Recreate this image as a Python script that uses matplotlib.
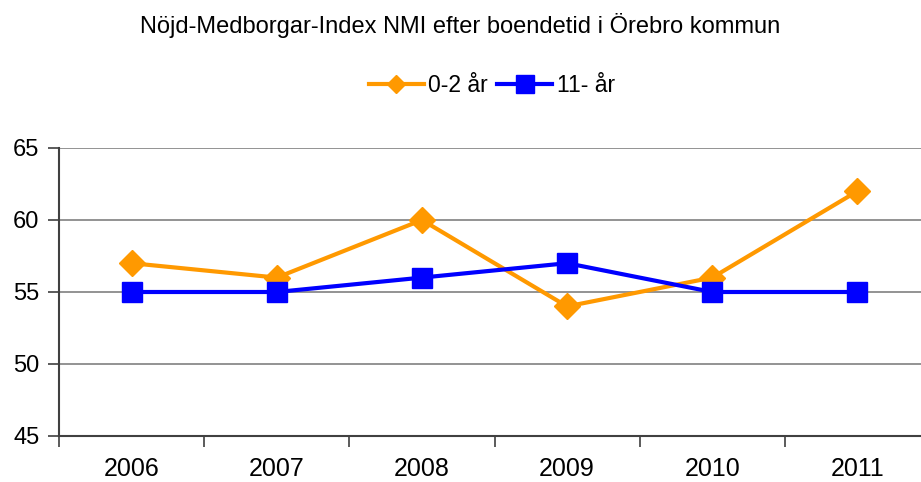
import matplotlib
import matplotlib.pyplot as plt
matplotlib.use('Agg')

plt.rcParams['font.family'] = ['Liberation Sans', 'DejaVu Sans']

# data
years = ["2006", "2007", "2008", "2009", "2010", "2011"]
short_stay = [57, 56, 60, 54, 56, 62]   # 0-2 år
long_stay = [55, 55, 56, 57, 55, 55]    # 11- år
y_ticks = [45, 50, 55, 60, 65]

fig = plt.figure(figsize=(9.21, 4.82), dpi=100)
# axis is cut off on the right side in the original
ax = fig.add_axes([59 / 921, 1 - 436 / 482, 871 / 921, 288 / 482])

x = list(range(len(years)))
ax.plot(x, short_stay, color="#ff9900", lw=3, marker="D", ms=13,
        label="0-2 år", zorder=3)
ax.plot(x, long_stay, color="#0000ff", lw=3, marker="s", ms=14,
        label="11- år", zorder=4)

ax.set_xlim(-0.5, len(years) - 0.5)
ax.set_ylim(45, 65)
ax.set_yticks(y_ticks)
# category boundaries get the tick marks, labels sit in between
ax.set_xticks([i + 0.5 for i in range(-1, len(years))], minor=False)
ax.set_xticklabels([])
ax.set_xticks(x, minor=True)
ax.set_xticklabels(years, minor=True)
ax.tick_params(axis="x", which="major", direction="out", length=8,
               color="#404040", width=1.2)
ax.tick_params(axis="x", which="minor", length=0, pad=15, labelsize=18)
ax.tick_params(axis="y", direction="out", length=8, color="#404040",
               width=1.2, labelsize=17, pad=6)

ax.grid(axis="y", color="#808080", lw=1.2)
ax.set_axisbelow(True)
for s in ["top", "right"]:
    ax.spines[s].set_visible(False)
for s in ["left", "bottom"]:
    ax.spines[s].set_color("#404040")
    ax.spines[s].set_linewidth(1.5)

fig.text(0.5, 1 - 25 / 482, "Nöjd-Medborgar-Index NMI efter boendetid i Örebro kommun",
         ha="center", va="center", fontsize=17)

handles, labels = ax.get_legend_handles_labels()
leg = fig.legend(handles, labels, loc="center", bbox_to_anchor=(492 / 921, 1 - 86 / 482),
                 ncol=2, frameon=False, fontsize=16.5, handlelength=2.4,
                 handletextpad=0.2, columnspacing=0.4)
leg.legend_handles[0].set_markersize(9)
leg.legend_handles[1].set_markersize(13)

plt.savefig("out.png", dpi=100)
plt.close('all')
